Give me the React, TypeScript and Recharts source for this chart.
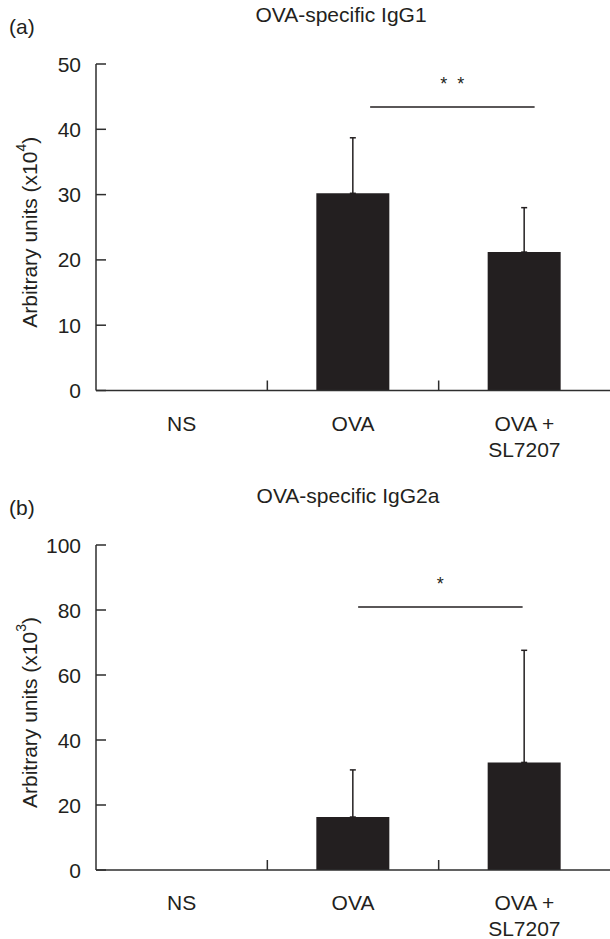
import { BarChart, Bar, XAxis, YAxis, ErrorBar, ReferenceLine } from "recharts";

const categories = ["NS", "OVA", "OVA + SL7207"];

const igg1Mean = [0, 30.2, 21.2];
const igg1Err = [0, 8.5, 6.8];
const igg1Ticks = [0, 10, 20, 30, 40, 50];

const igg2aMean = [0, 16.3, 33.1];
const igg2aErr = [0, 14.5, 34.5];
const igg2aTicks = [0, 20, 40, 60, 80, 100];

// significance brackets: ends in category units (category i spans i..i+1), y in data units
const igg1Sig = { from: 1.6, to: 2.56, y: 43.4, label: "*\u00a0\u00a0*" };
const igg2aSig = { from: 1.53, to: 2.49, y: 80.9, label: "*" };

const ink = "#231f20";
const axisColor = "#2e2e2e";
const font = "'Liberation Sans', Arial, Helvetica, sans-serif";
const fs = 21;
const yTickMargin = 15;

const CategoryTick = (props: any) => {
  const { x, y, payload, index, width, visibleTicksCount } = props;
  const lines = String(payload.value).replace("+ ", "+\n").split("\n");
  const band = width / visibleTicksCount;
  return (
    <g>
      {index < visibleTicksCount - 1 && (
        <rect x={x + band / 2 - 0.75} y={y - 10} width={1.5} height={10} fill={axisColor} />
      )}
      <text x={x} y={y + 40} textAnchor="middle" fill={ink} fontSize={fs} fontFamily={font}>
        {lines.map((l: string, i: number) => (
          <tspan key={i} x={x} dy={i === 0 ? 0 : 26}>
            {l}
          </tspan>
        ))}
      </text>
    </g>
  );
};

// value label plus a short inward tick starting at the axis line
const ValueTick = (props: any) => {
  const { x, y, payload } = props;
  const ax = Number(x) + yTickMargin;
  return (
    <g>
      <rect x={ax} y={Number(y) - 0.75} width={10} height={1.5} fill={axisColor} />
      <text x={x} y={y} dy="0.36em" textAnchor="end" fill={ink} fontSize={fs} fontFamily={font}>
        {payload.value}
      </text>
    </g>
  );
};

const YLabel = (exp: string) => (props: any) => {
  const vb = props.viewBox || {};
  const cx = 29;
  const cy = (vb.y || 0) + (vb.height || 0) / 2 + 5;
  return (
    <text
      x={cx}
      y={cy}
      transform={`rotate(-90, ${cx}, ${cy})`}
      textAnchor="middle"
      dominantBaseline="central"
      fill={ink}
      fontSize={fs}
      fontFamily={font}
    >
      <tspan>Arbitrary units (x10</tspan>
      <tspan dy={-8} fontSize={14}>{exp}</tspan>
      <tspan dy={8}>)</tspan>
    </text>
  );
};

// segment is drawn between the centres of categories 1 and 2 (1.5 and 2.5 units)
const SigShape = (sig: { from: number; to: number; label: string }) => (props: any) => {
  const { x1, x2, y1 } = props;
  if (x1 == null || x2 == null || y1 == null) return <g />;
  const unit = x2 - x1;
  const a = x1 + (sig.from - 1.5) * unit;
  const b = x1 + (sig.to - 1.5) * unit;
  return (
    <g>
      <line x1={a} y1={y1} x2={b} y2={y1} stroke={ink} strokeWidth={1.5} />
      <text x={(a + b) / 2} y={y1 - 17} textAnchor="middle" fill={ink} fontSize={18} fontFamily={font}>
        {sig.label}
      </text>
    </g>
  );
};

type PanelProps = {
  top: number;
  tag: string;
  title: string;
  titleCenter: number;
  exp: string;
  means: number[];
  errs: number[];
  ticks: number[];
  sig: { from: number; to: number; y: number; label: string };
  marginTop: number;
  plotHeight: number;
};

const Panel = ({ top, tag, title, titleCenter, exp, means, errs, ticks, sig, marginTop, plotHeight }: PanelProps) => {
  const data = categories.map((name, i) => ({
    name,
    value: means[i],
    err: means[i] > 0 ? [0, errs[i]] : null,
  }));
  const yMax = ticks[ticks.length - 1];
  const height = marginTop + plotHeight + 70;
  return (
    <div style={{ position: "absolute", left: 0, top, width: 610, height }}>
      <div style={{ position: "absolute", left: 9, top: marginTop - 47, fontSize: fs, lineHeight: "20px", fontFamily: font, color: ink }}>
        {tag}
      </div>
      <div
        style={{
          position: "absolute",
          left: titleCenter - 150,
          width: 300,
          top: marginTop - 59,
          textAlign: "center",
          fontSize: fs,
          lineHeight: "20px",
          fontFamily: font,
          color: ink,
        }}
      >
        {title}
      </div>
      <BarChart width={610} height={height} data={data} margin={{ top: marginTop, right: 0, left: 0, bottom: 0 }} barSize={73}>
        <XAxis
          dataKey="name"
          height={70}
          tickLine={false}
          tickSize={0}
          tickMargin={0}
          axisLine={{ stroke: axisColor, strokeWidth: 1.5 }}
          tick={<CategoryTick />}
          interval={0}
        />
        <YAxis
          width={96}
          domain={[0, yMax]}
          ticks={ticks}
          tickLine={false}
          tickSize={0}
          tickMargin={yTickMargin}
          axisLine={{ stroke: axisColor, strokeWidth: 1.5 }}
          tick={<ValueTick />}
          label={{ content: YLabel(exp) }}
        />
        <Bar dataKey="value" fill={ink} isAnimationActive={false}>
          <ErrorBar dataKey="err" width={3} stroke={ink} strokeWidth={1.5} isAnimationActive={false} />
        </Bar>
        <ReferenceLine
          segment={[
            { x: categories[1], y: sig.y },
            { x: categories[2], y: sig.y },
          ]}
          shape={SigShape(sig)}
        />
      </BarChart>
    </div>
  );
};

export default function App() {
  return (
    <div style={{ position: "absolute", left: 0, top: 0, width: 610, height: 939, background: "#fff" }}>
      <Panel
        top={0}
        tag="(a)"
        title="OVA-specific IgG1"
        titleCenter={341}
        exp="4"
        means={igg1Mean}
        errs={igg1Err}
        ticks={igg1Ticks}
        sig={igg1Sig}
        marginTop={64}
        plotHeight={326.5}
      />
      <Panel
        top={480}
        tag="(b)"
        title="OVA-specific IgG2a"
        titleCenter={348}
        exp="3"
        means={igg2aMean}
        errs={igg2aErr}
        ticks={igg2aTicks}
        sig={igg2aSig}
        marginTop={65}
        plotHeight={325}
      />
    </div>
  );
}
